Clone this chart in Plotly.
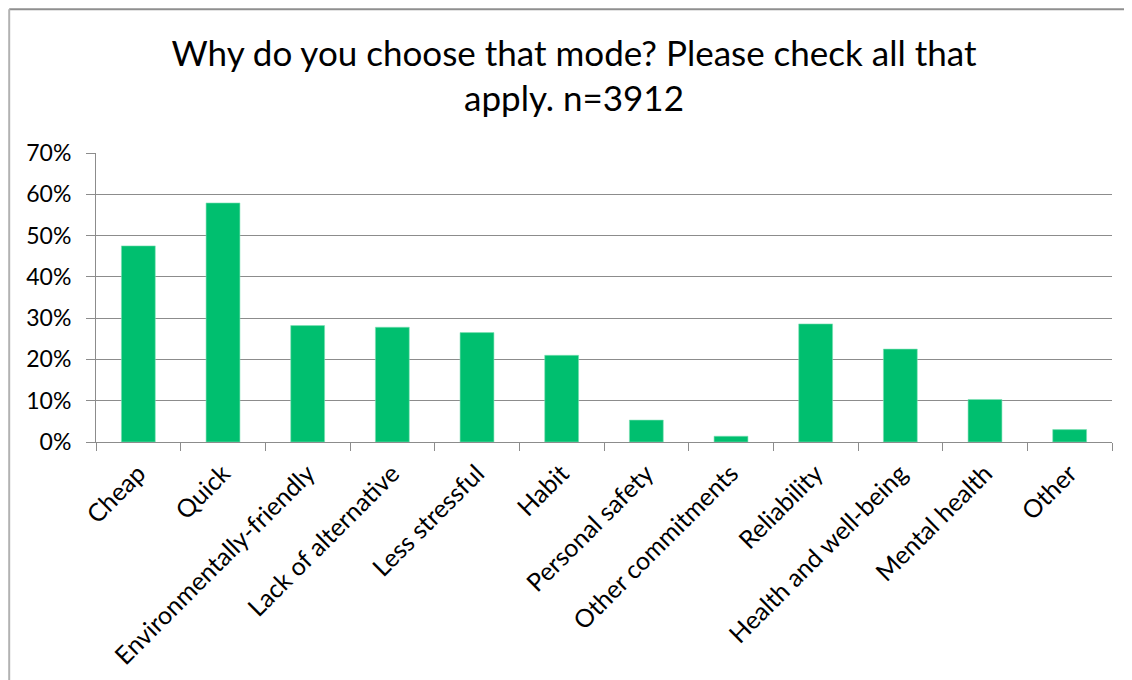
import plotly.graph_objects as go

categories = ["Cheap", "Quick", "Environmentally-friendly", "Lack of alternative",
              "Less stressful", "Habit", "Personal safety", "Other commitments",
              "Reliability", "Health and well-being", "Mental health", "Other"]
values = [47.5, 57.9, 28.2, 27.8, 26.5, 21.0, 5.3, 1.4, 28.6, 22.5, 10.3, 3.0]
y_ticks = [0, 10, 20, 30, 40, 50, 60, 70]
y_tick_labels = [f"{v}%" for v in y_ticks]
title_text = "Why do you choose that mode? Please check all that<br>apply. n=3912"

FONT = "Lato, Open Sans, sans-serif"
GRID = "#8c8c8c"
OFF = 8  # page body offset

fig = go.Figure(go.Bar(
    x=categories, y=values,
    marker=dict(color="#00BF6F", line=dict(color="#7fe0b5", width=0.6)),
    width=0.4,
))

W, H = 1132, 680
ml, mt = 96 - OFF, 153 - OFF
mr = W - (1112 - OFF)
mb = H - (442 - OFF)
pw, ph = W - ml - mr, H - mt - mb

# border positions in svg pixel space
bx = 1.2
by = 1.2
bx0 = (bx - ml) / pw
by1 = 1 + (mt - by) / ph
bx1 = (W - ml) / pw
by0 = -(H - (H - mb)) / ph

fig.update_layout(
    width=W, height=H,
    margin=dict(l=ml, r=mr, t=mt, b=mb, autoexpand=False),
    paper_bgcolor="white", plot_bgcolor="white",
    showlegend=False,
    font=dict(family=FONT, color="#000000"),
    title=dict(text=title_text, x=0.5, xanchor="center", xref="container",
               y=0.915, yanchor="top", yref="container",
               font=dict(family=FONT, size=35, color="#000000")),
    xaxis=dict(
        tickangle=-45, tickfont=dict(size=25, family=FONT, color="#000000"),
        ticks="outside", ticklen=8, tickcolor=GRID, tickwidth=1,
        tickson="boundaries", showline=True, linecolor=GRID, linewidth=1,
        showgrid=False, automargin=False, ticklabelstandoff=6,
    ),
    yaxis=dict(
        range=[0, 70], tickvals=y_ticks, ticktext=y_tick_labels,
        tickfont=dict(size=23, family=FONT, color="#000000"),
        ticks="outside", ticklen=9, tickcolor=GRID, tickwidth=1,
        showgrid=True, gridcolor=GRID, gridwidth=1,
        showline=True, linecolor=GRID, linewidth=1,
        zeroline=False, ticklabelstandoff=10, automargin=False,
    ),
    shapes=[
        dict(type="line", xref="paper", yref="paper",
             x0=bx0, x1=bx1, y0=by1, y1=by1,
             line=dict(color="#8f8f8f", width=2), layer="below"),
        dict(type="line", xref="paper", yref="paper",
             x0=bx0, x1=bx0, y0=by0, y1=by1,
             line=dict(color="#b2b2b2", width=2), layer="below"),
    ],
)

fig.write_html("out.html")
